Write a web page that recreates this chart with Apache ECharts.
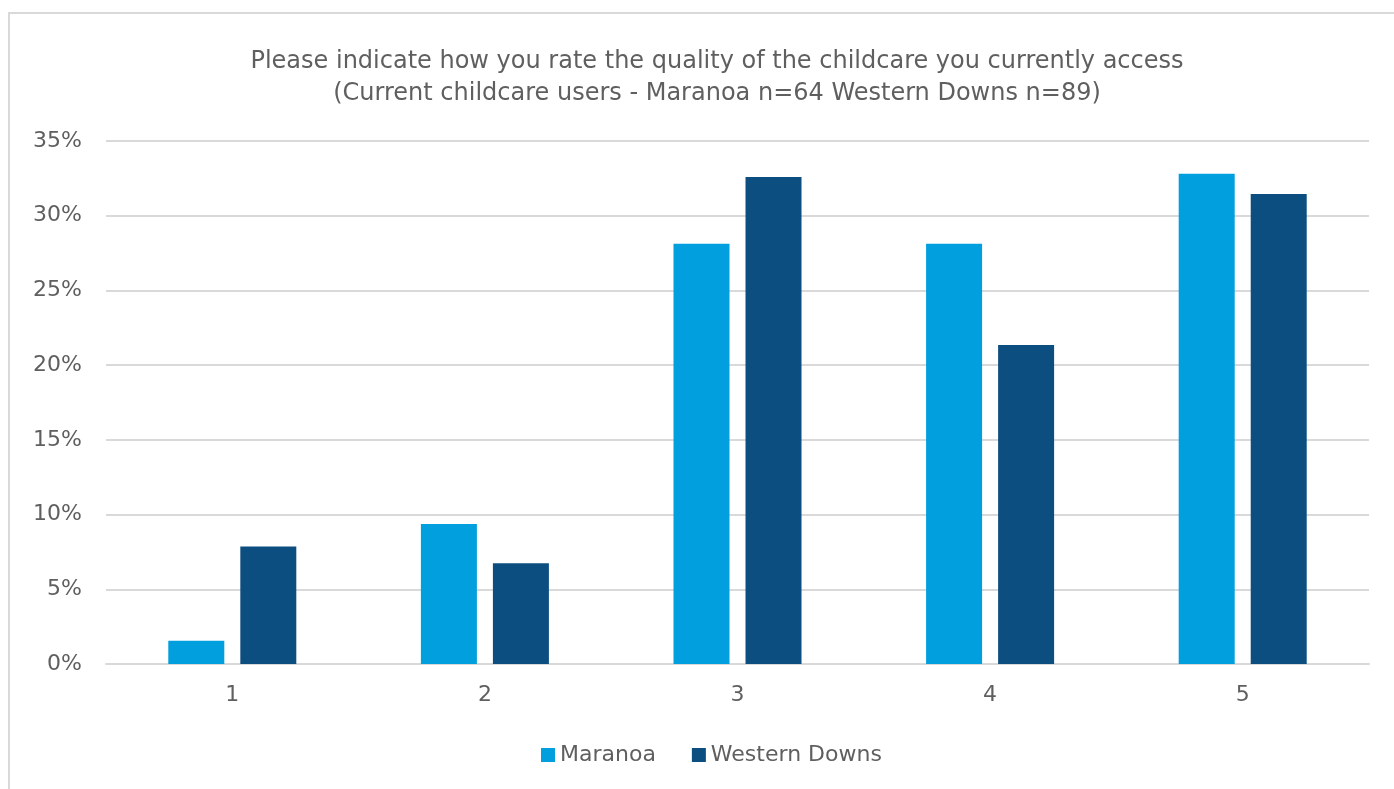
<!DOCTYPE html>
<html>
<head>
<meta charset="utf-8">
<script src="https://cdn.jsdelivr.net/npm/echarts@6/dist/echarts.min.js"></script>
<style>
  html, body { margin: 0; padding: 0; background: #fff; }
  #frame { position: absolute; left: 8px; top: 12px; width: 1400px; height: 800px;
           border-left: 2px solid #d9d9d9; border-top: 2px solid #d9d9d9; box-sizing: border-box; }
  #chart { position: absolute; left: 0; top: 0; width: 1394px; height: 789px; }
</style>
</head>
<body>
<div id="frame"></div>
<div id="chart"></div>
<script>
// Quality ratings of current childcare (share of respondents)
const ratings = ['1', '2', '3', '4', '5'];
const maranoa = [1.5625, 9.375, 28.125, 28.125, 32.8125];       // n=64
const westernDowns = [7.8652, 6.7416, 32.5843, 21.3483, 31.4607]; // n=89
const yTicks = [0, 5, 10, 15, 20, 25, 30, 35];

const FONT = '"DejaVu Sans", sans-serif';
const TEXT = '#5f5f5f';

const chart = echarts.init(document.getElementById('chart'));
chart.setOption({
  animation: false,
  title: {
    text: 'Please indicate how you rate the quality of the childcare you currently access\n(Current childcare users - Maranoa n=64 Western Downs n=89)',
    left: 712, top: 41, textAlign: 'center',
    textStyle: { fontFamily: FONT, fontWeight: 'normal', fontSize: 24, color: TEXT, lineHeight: 32, align: 'center' }
  },
  legend: {
    data: ['Maranoa', 'Western Downs'],
    left: 541, top: 744, padding: 0,
    itemWidth: 14, itemHeight: 14, itemGap: 36,
    icon: 'rect',
    textStyle: { fontFamily: FONT, fontSize: 22, color: TEXT }
  },
  grid: { left: 106, right: 25, top: 141, bottom: 125, containLabel: false },
  xAxis: {
    type: 'category',
    data: ratings,
    axisLine: { lineStyle: { color: '#d9d9d9', width: 2 } },
    axisTick: { show: false },
    axisLabel: { fontFamily: FONT, fontSize: 22, color: TEXT, margin: 20 }
  },
  yAxis: {
    type: 'value',
    min: yTicks[0], max: yTicks[yTicks.length - 1], interval: 5,
    axisLine: { show: false },
    axisTick: { show: false },
    splitLine: { lineStyle: { color: '#d9d9d9', width: 2 } },
    axisLabel: { fontFamily: FONT, fontSize: 22, color: TEXT, margin: 24, formatter: v => v + '%' }
  },
  series: [
    { name: 'Maranoa', type: 'bar', data: maranoa, barWidth: 56, barGap: '28.6%',
      itemStyle: { color: '#019fdd' } },
    { name: 'Western Downs', type: 'bar', data: westernDowns, barWidth: 56,
      itemStyle: { color: '#0d4e80' } }
  ]
});
</script>
</body>
</html>
